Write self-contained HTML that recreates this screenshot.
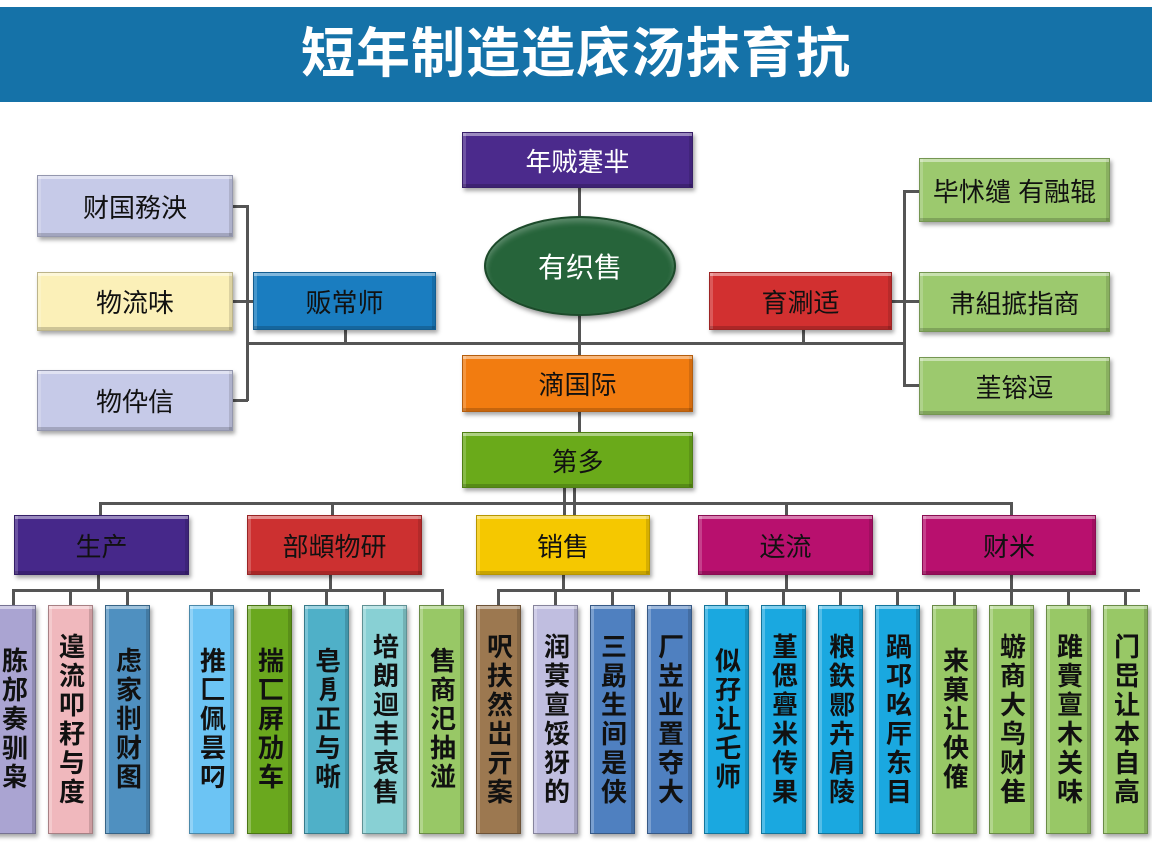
<!DOCTYPE html>
<html><head><meta charset="utf-8"><style>
*{margin:0;padding:0;box-sizing:border-box}
body{width:1152px;height:864px;background:#fff;position:relative;overflow:hidden;font-family:"Liberation Sans","Noto Sans CJK SC",sans-serif}
.t{position:absolute;left:0;top:7px;width:1152px;height:95px;background:#1572a8;color:#fff;font-size:54px;font-weight:bold;text-align:center;line-height:95px;letter-spacing:1px}
.b{position:absolute;display:flex;align-items:center;justify-content:center;font-size:26px;color:#111;border:1px solid rgba(0,0,0,.25);box-shadow:inset 0 3px 0 rgba(255,255,255,.45),inset 0 -3px 0 rgba(0,0,0,.18),inset 3px 0 0 rgba(255,255,255,.2),inset -3px 0 0 rgba(0,0,0,.12),2px 3px 4px rgba(0,0,0,.35)}
.w{color:#fff}
.l{position:absolute;background:#555}
.c{position:absolute;top:605px;width:45px;height:229px;display:flex;justify-content:center;align-items:center;border:1px solid rgba(0,0,0,.3);box-shadow:inset 0 3px 0 rgba(255,255,255,.45),inset 3px 0 0 rgba(255,255,255,.25),inset -3px 0 0 rgba(0,0,0,.15),2px 3px 4px rgba(0,0,0,.35)}
.c span{writing-mode:vertical-rl;font-size:26px;line-height:30px;color:#111;letter-spacing:3px;font-weight:bold}
</style></head><body>
<div class="t">短年制造造庡汤抹育抗</div>

<div class="l" style="left:578px;top:188px;width:3px;height:167px"></div>
<div class="l" style="left:246px;top:342px;width:660px;height:3px"></div>
<div class="l" style="left:246px;top:205px;width:3px;height:196px"></div>
<div class="l" style="left:233px;top:205px;width:15px;height:3px"></div>
<div class="l" style="left:233px;top:300px;width:20px;height:3px"></div>
<div class="l" style="left:233px;top:399px;width:15px;height:3px"></div>
<div class="l" style="left:344px;top:330px;width:3px;height:13px"></div>
<div class="l" style="left:802px;top:330px;width:3px;height:13px"></div>
<div class="l" style="left:903px;top:190px;width:3px;height:196px"></div>
<div class="l" style="left:903px;top:190px;width:17px;height:3px"></div>
<div class="l" style="left:892px;top:300px;width:28px;height:3px"></div>
<div class="l" style="left:903px;top:384px;width:17px;height:3px"></div>
<div class="l" style="left:578px;top:412px;width:3px;height:20px"></div>
<div class="l" style="left:563px;top:488px;width:3px;height:27px"></div>
<div class="l" style="left:573px;top:488px;width:3px;height:27px"></div>
<div class="l" style="left:99px;top:502px;width:914px;height:3px"></div>
<div class="l" style="left:99px;top:502px;width:3px;height:13px"></div>
<div class="l" style="left:331px;top:502px;width:3px;height:13px"></div>
<div class="l" style="left:785px;top:502px;width:3px;height:13px"></div>
<div class="l" style="left:1010px;top:502px;width:3px;height:13px"></div>
<div class="l" style="left:97px;top:575px;width:3px;height:15px"></div>
<div class="l" style="left:329px;top:575px;width:3px;height:15px"></div>
<div class="l" style="left:562px;top:575px;width:3px;height:15px"></div>
<div class="l" style="left:785px;top:575px;width:3px;height:15px"></div>
<div class="l" style="left:1010px;top:575px;width:3px;height:15px"></div>
<div class="l" style="left:12px;top:589px;width:432px;height:3px"></div>
<div class="l" style="left:497px;top:589px;width:643px;height:3px"></div>

<div class="l" style="left:12px;top:589px;width:3px;height:16px"></div>
<div class="l" style="left:69px;top:589px;width:3px;height:16px"></div>
<div class="l" style="left:126px;top:589px;width:3px;height:16px"></div>
<div class="l" style="left:210px;top:589px;width:3px;height:16px"></div>
<div class="l" style="left:268px;top:589px;width:3px;height:16px"></div>
<div class="l" style="left:325px;top:589px;width:3px;height:16px"></div>
<div class="l" style="left:383px;top:589px;width:3px;height:16px"></div>
<div class="l" style="left:441px;top:589px;width:3px;height:16px"></div>
<div class="l" style="left:497px;top:589px;width:3px;height:16px"></div>
<div class="l" style="left:554px;top:589px;width:3px;height:16px"></div>
<div class="l" style="left:611px;top:589px;width:3px;height:16px"></div>
<div class="l" style="left:668px;top:589px;width:3px;height:16px"></div>
<div class="l" style="left:725px;top:589px;width:3px;height:16px"></div>
<div class="l" style="left:782px;top:589px;width:3px;height:16px"></div>
<div class="l" style="left:839px;top:589px;width:3px;height:16px"></div>
<div class="l" style="left:896px;top:589px;width:3px;height:16px"></div>
<div class="l" style="left:953px;top:589px;width:3px;height:16px"></div>
<div class="l" style="left:1010px;top:589px;width:3px;height:16px"></div>
<div class="l" style="left:1067px;top:589px;width:3px;height:16px"></div>
<div class="l" style="left:1124px;top:589px;width:3px;height:16px"></div>

<div class="b w" style="left:462px;top:132px;width:231px;height:56px;background:#4b2a8c">年贼蹇芈</div>
<div style="position:absolute;left:484px;top:216px;width:192px;height:100px;border-radius:50%;background:#26643a;border:2px solid #1c4a2a;box-shadow:inset 0 4px 6px rgba(255,255,255,.25),2px 3px 5px rgba(0,0,0,.4);color:#fff;font-size:28px;display:flex;align-items:center;justify-content:center">有织售</div>
<div class="b" style="left:37px;top:175px;width:196px;height:62px;background:#c6cae8">财国務泱</div>
<div class="b" style="left:37px;top:272px;width:196px;height:59px;background:#fbf0b8">物流味</div>
<div class="b" style="left:37px;top:370px;width:196px;height:61px;background:#c6cae8">物伜信</div>
<div class="b" style="left:253px;top:272px;width:183px;height:58px;background:#1a7dc0">贩常师</div>
<div class="b" style="left:709px;top:272px;width:183px;height:58px;background:#d23030">育涮适</div>
<div class="b" style="left:919px;top:158px;width:191px;height:64px;background:#9cc96e">毕怵缱 有融辊</div>
<div class="b" style="left:919px;top:272px;width:191px;height:60px;background:#9cc96e">帇組掋指商</div>
<div class="b" style="left:919px;top:357px;width:191px;height:58px;background:#9cc96e">茥镕逗</div>
<div class="b" style="left:462px;top:355px;width:231px;height:57px;background:#f27c10">滴国际</div>
<div class="b" style="left:462px;top:432px;width:231px;height:56px;background:#6aaa1a">第多</div>

<div class="b" style="left:14px;top:515px;width:175px;height:60px;background:#46288a">生产</div>
<div class="b" style="left:247px;top:515px;width:175px;height:60px;background:#cc3030">部䪼物研</div>
<div class="b" style="left:476px;top:515px;width:174px;height:60px;background:#f5c800">销售</div>
<div class="b" style="left:698px;top:515px;width:175px;height:60px;background:#b8106e">送流</div>
<div class="b" style="left:922px;top:515px;width:174px;height:60px;background:#b8106e">财米</div>

<div class="c" style="left:-9px;background:#aaa4d2"><span>胨邡奏驯枭</span></div>
<div class="c" style="left:48px;background:#f0b8bd"><span>遑流叩耔与度</span></div>
<div class="c" style="left:105px;background:#4f90c0"><span>虑家剕财图</span></div>
<div class="c" style="left:189px;background:#6cc4f4"><span>推匚佩昙叼</span></div>
<div class="c" style="left:247px;background:#6aa81e"><span>揣匸屏劢车</span></div>
<div class="c" style="left:304px;background:#4fb0c8"><span>皂㐆正与哳</span></div>
<div class="c" style="left:362px;background:#88d0d4"><span>培朗迴丰哀售</span></div>
<div class="c" style="left:419px;background:#98c866"><span>售商汜抽湴</span></div>
<div class="c" style="left:476px;background:#9c7850"><span>呎扶然岀亓案</span></div>
<div class="c" style="left:533px;background:#c0bee0"><span>润蓂亶馁犽的</span></div>
<div class="c" style="left:590px;background:#4f80c0"><span>三勗生间是侠</span></div>
<div class="c" style="left:647px;background:#4f80c0"><span>厂岦业置夺大</span></div>
<div class="c" style="left:704px;background:#1aa8e0"><span>似孖让乇师</span></div>
<div class="c" style="left:761px;background:#1aa8e0"><span>堇偲亹米传果</span></div>
<div class="c" style="left:818px;background:#1aa8e0"><span>粮鉃郻卉肩陵</span></div>
<div class="c" style="left:875px;background:#1aa8e0"><span>踻邛吆厈东目</span></div>
<div class="c" style="left:932px;background:#98c866"><span>来菓让佒傕</span></div>
<div class="c" style="left:989px;background:#98c866"><span>蝣商大鸟财隹</span></div>
<div class="c" style="left:1046px;background:#98c866"><span>踓賷亶木关味</span></div>
<div class="c" style="left:1103px;background:#98c866"><span>门岊让本自高</span></div>
</body></html>
